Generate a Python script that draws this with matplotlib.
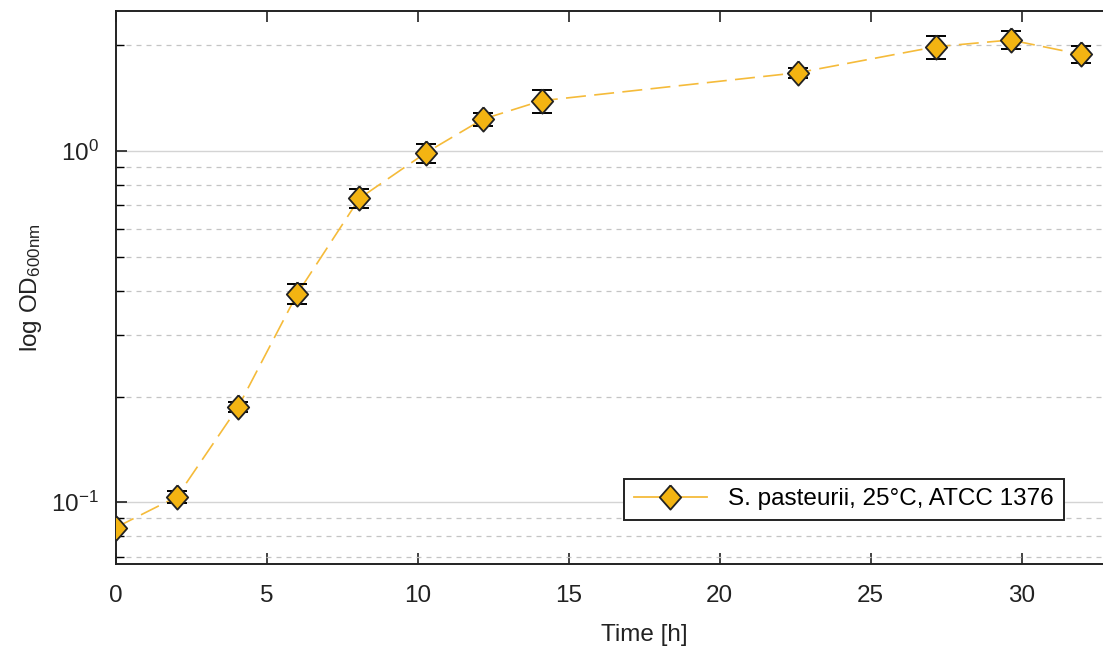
import matplotlib
matplotlib.use("Agg")
import matplotlib.pyplot as plt
from matplotlib.ticker import LogLocator, NullFormatter

# Growth curve data
time_h = [0.0, 2.03, 4.06, 6.01, 8.07, 10.26, 12.15, 14.1, 22.6, 27.17, 29.63, 31.95]
od600 = [0.0847, 0.1037, 0.1871, 0.392, 0.733, 0.987, 1.231, 1.390, 1.671, 1.981, 2.070, 1.885]
od_err = [0.0, 0.004, 0.006, 0.025, 0.045, 0.06, 0.05, 0.105, 0.055, 0.15, 0.125, 0.10]
x_ticks = [0, 5, 10, 15, 20, 25, 30]
series_label = "S. pasteurii, 25°C, ATCC 1376"

plt.rcParams["font.family"] = ["Liberation Sans", "DejaVu Sans"]
plt.rcParams["mathtext.fontset"] = "custom"
plt.rcParams["mathtext.rm"] = "Liberation Sans"
plt.rcParams["mathtext.it"] = "Liberation Sans:italic"
plt.rcParams["axes.unicode_minus"] = False

fig = plt.figure(figsize=(11.03, 6.48), dpi=100)
# axes extend past the right edge (the reference is cropped there)
ax = fig.add_axes([0.1049, 0.1296, 0.9583, 0.8534])

line_color = "#f5bb3a"
face_color = "#f3b412"
text_color = "#222222"

ax.plot(time_h, od600, color=line_color, linewidth=1.2, dashes=(12, 5), zorder=2)
ax.errorbar(time_h, od600, yerr=od_err, fmt="none", ecolor="black",
            elinewidth=1.4, capsize=7, capthick=1.4, zorder=3)
diamond = [(0, 1), (0.88, 0), (0, -1), (-0.88, 0), (0, 1)]
ax.plot(time_h, od600, linestyle="none", marker=diamond, markersize=17.5,
        markerfacecolor=face_color, markeredgecolor=text_color,
        markeredgewidth=1.3, zorder=4)

# legend proxy
ax.plot([], [], color=line_color, linewidth=1.3, marker=diamond, markersize=17.5,
        markerfacecolor=face_color, markeredgecolor=text_color,
        markeredgewidth=1.3, label=series_label)

ax.set_yscale("log")
ax.set_xlim(0, 35)
ax.set_ylim(0.0667, 2.503)
ax.set_xticks(x_ticks)
ax.yaxis.set_major_locator(LogLocator(base=10))
ax.yaxis.set_minor_locator(LogLocator(base=10, subs=range(2, 10)))
ax.yaxis.set_minor_formatter(NullFormatter())

ax.grid(True, which="major", axis="y", color="#d4d4d4", linewidth=1.0)
ax.grid(True, which="minor", axis="y", color="#c4c4c4", linewidth=0.9,
        linestyle=(0, (4, 4)))
ax.set_axisbelow(True)

ax.tick_params(axis="both", which="major", direction="in", length=8, width=1.2,
               labelsize=17.5, colors=text_color)
ax.tick_params(axis="x", top=True, pad=15)
ax.tick_params(axis="y", pad=12)
ax.tick_params(axis="y", which="minor", direction="in", length=6, width=1.0)
for side in ["left", "bottom", "top"]:
    ax.spines[side].set_linewidth(1.4)
    ax.spines[side].set_color(text_color)
ax.spines["right"].set_visible(False)

ax.set_xlabel("Time [h]", fontsize=17.5, color=text_color, labelpad=12)
ax.set_ylabel(r"log OD$_{\mathrm{600nm}}$", fontsize=17.5, color=text_color,
              labelpad=5)

leg = ax.legend(loc="lower right", bbox_to_anchor=(0.897, 0.0796),
                borderaxespad=0, fontsize=17.5, fancybox=False, framealpha=1,
                edgecolor=text_color, handlelength=3.0, borderpad=0.4,
                handletextpad=0.9)
leg.get_frame().set_linewidth(1.4)

fig.savefig("out.png", dpi=100, facecolor="white")
